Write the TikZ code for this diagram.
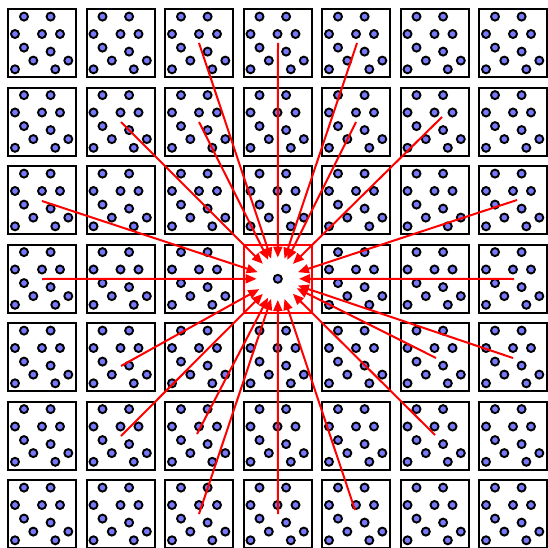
\documentclass[tikz,border=0pt]{standalone}
\usetikzlibrary{arrows.meta}
\definecolor{dotblue}{RGB}{120,120,250}
\begin{document}
\begin{tikzpicture}[x=1pt,y=-1pt,
  cellbox/.style={draw=black,line width=2pt},
  centerbox/.style={draw=red,line width=1.4pt},
  particle/.style={draw=black,fill=dotblue,line width=1.9pt},
  imagelink/.style={draw=red,line width=2pt,-{Triangle[length=11pt,width=9pt]}},
]
\useasboundingbox[fill=white] (0,0) rectangle (547,548);
% periodic image cells
\foreach \i in {0,...,6}{
  \foreach \j in {0,...,6}{
    \pgfmathsetmacro\bx{7.3+78.5*\i}
    \pgfmathsetmacro\by{8.3+78.5*\j}
    \ifnum\numexpr\i*10+\j\relax=33
      \draw[centerbox] (\bx+1,\by+1) rectangle (\bx+69,\by+69);
    \else
      \draw[cellbox] (\bx+1,\by+1) rectangle (\bx+69,\by+69);
      \foreach \dx/\dy in {16.7/8.3, 43.3/8.3, 7.7/25.7, 34.7/25.7, 52.7/25.7,
                           16.7/39.3, 43.3/43.3, 26/52.3, 61/52.3, 7.7/61, 48/61}{
        \filldraw[particle] (\bx+\dx,\by+\dy) circle[radius=4pt];
      }
    \fi
  }
}
% central particle
\node[circle,minimum size=42pt,inner sep=0pt] (c) at (277.8,278.8) {};
% image positions within cutoff
\coordinate (e1) at (199,43);
\coordinate (e2) at (278,43);
\coordinate (e3) at (357,43);
\coordinate (e4) at (121,122);
\coordinate (e5) at (199,122);
\coordinate (e6) at (356,122);
\coordinate (e7) at (442,117);
\coordinate (e8) at (42,201);
\coordinate (e9) at (517,200);
\coordinate (e10) at (42,279);
\coordinate (e11) at (514,279);
\coordinate (e12) at (121,366);
\coordinate (e13) at (436,358);
\coordinate (e14) at (513,358);
\coordinate (e15) at (121,436);
\coordinate (e16) at (197,434);
\coordinate (e17) at (435,435);
\coordinate (e18) at (199,514);
\coordinate (e19) at (278,514);
\coordinate (e20) at (355,510);
\foreach \k in {1,...,20}{
  \draw[imagelink] (e\k) -- (c);
}
\filldraw[particle] (c.center) circle[radius=4pt];
\end{tikzpicture}
\end{document}
